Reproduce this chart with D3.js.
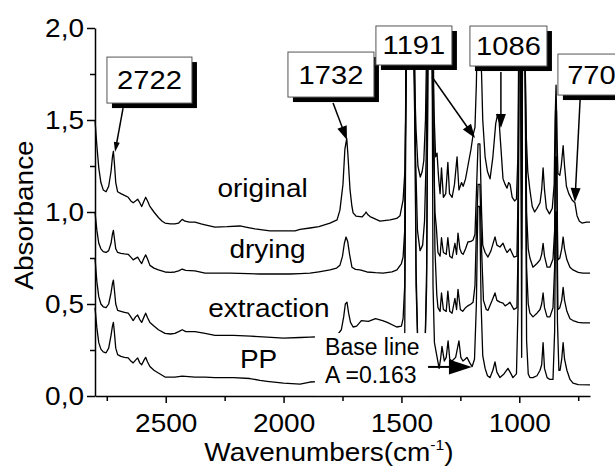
<!DOCTYPE html>
<html><head><meta charset="utf-8">
<script src="https://cdn.jsdelivr.net/npm/d3@7"></script>
<style>
html,body{margin:0;padding:0;background:#fff;}
svg{display:block;font-family:"Liberation Sans",Arial,sans-serif;}
</style></head>
<body>
<svg id="c" width="615" height="468"></svg>
<script>
// ---- data: [wavenumber cm-1, absorbance] ----
const original = [[2800,1.50],[2792,1.36],[2784,1.24],[2775,1.16],[2765,1.12],[2753,1.11],[2742,1.14],[2732,1.22],[2726,1.30],[2722,1.33],[2718,1.27],[2712,1.16],[2704,1.11],[2690,1.10],[2675,1.09],[2659,1.08],[2648,1.06],[2638,1.05],[2628,1.06],[2619,1.07],[2610,1.05],[2602,1.03],[2592,1.06],[2585,1.08],[2577,1.06],[2567,1.03],[2550,1.00],[2531,0.97],[2515,0.95],[2503,0.94],[2480,0.935],[2461,0.935],[2445,0.94],[2430,0.96],[2418,0.95],[2400,0.945],[2376,0.945],[2350,0.935],[2333,0.93],[2291,0.918],[2240,0.92],[2185,0.924],[2150,0.915],[2121,0.908],[2058,0.897],[2000,0.897],[1951,0.897],[1930,0.905],[1888,0.913],[1850,0.92],[1803,0.94],[1773,0.957],[1761,1.01],[1748,1.15],[1740,1.34],[1732,1.40],[1727,1.31],[1718,1.12],[1710,1.03],[1705,0.995],[1693,0.978],[1667,0.973],[1655,0.99],[1650,1.0],[1642,0.985],[1633,0.975],[1591,0.95],[1548,0.957],[1520,0.965],[1506,0.98],[1493,1.065],[1485,1.23],[1478,1.9],[1470,1.98],[1450,1.98],[1444,1.7],[1438,1.45],[1430,1.25],[1420,1.19],[1412,1.22],[1405,1.28],[1398,1.5],[1392,1.98],[1370,1.98],[1362,1.55],[1355,1.3],[1349,1.32],[1342,1.18],[1336,1.10],[1330,1.24],[1322,1.08],[1312,1.10],[1303,1.27],[1296,1.10],[1285,1.08],[1275,1.15],[1264,1.30],[1256,1.12],[1245,1.16],[1238,1.14],[1228,1.18],[1218,1.25],[1205,1.34],[1196,1.42],[1188,1.46],[1182,1.7],[1178,1.98],[1168,1.98],[1160,1.75],[1155,1.5],[1145,1.3],[1135,1.22],[1124,1.18],[1112,1.3],[1100,1.48],[1092,1.53],[1086,1.50],[1078,1.35],[1069,1.18],[1060,1.15],[1052,1.13],[1045,1.16],[1039,1.15],[1030,1.08],[1020,1.06],[1012,1.07],[1006,1.3],[1002,1.98],[995,1.98],[991,1.5],[987,1.98],[977,1.98],[970,1.4],[964,1.22],[955,1.12],[945,1.03],[935,1.0],[925,1.02],[912,1.05],[905,1.12],[899,1.24],[893,1.12],[885,1.02],[872,0.99],[860,1.02],[852,1.15],[848,1.5],[844,1.69],[840,1.4],[836,1.21],[828,1.2],[822,1.25],[814,1.36],[808,1.25],[800,1.14],[790,1.10],[776,1.065],[764,1.05],[755,0.98],[745,0.95],[734,0.94],[715,0.945],[700,0.945]];

const drying = [[2800,1.0],[2792,0.90],[2784,0.83],[2775,0.80],[2765,0.785],[2753,0.78],[2742,0.79],[2732,0.83],[2726,0.88],[2722,0.90],[2718,0.86],[2712,0.80],[2704,0.78],[2690,0.775],[2675,0.772],[2659,0.77],[2648,0.755],[2638,0.74],[2628,0.748],[2619,0.755],[2610,0.735],[2602,0.72],[2592,0.75],[2585,0.767],[2577,0.745],[2567,0.71],[2550,0.695],[2531,0.685],[2503,0.674],[2480,0.672],[2461,0.674],[2445,0.68],[2430,0.69],[2415,0.683],[2376,0.68],[2333,0.668],[2290,0.668],[2227,0.668],[2150,0.665],[2100,0.663],[2030,0.663],[1973,0.663],[1930,0.665],[1888,0.668],[1850,0.675],[1803,0.685],[1775,0.695],[1761,0.71],[1750,0.76],[1742,0.83],[1735,0.864],[1728,0.84],[1720,0.77],[1710,0.70],[1695,0.688],[1676,0.685],[1646,0.674],[1610,0.67],[1578,0.668],[1540,0.675],[1519,0.685],[1500,0.72],[1493,0.755],[1486,0.9],[1480,1.98],[1450,1.98],[1442,1.4],[1432,0.9],[1421,0.79],[1410,0.82],[1402,0.95],[1395,1.3],[1390,1.98],[1372,1.98],[1365,1.4],[1358,1.0],[1352,0.92],[1345,0.78],[1336,0.76],[1330,0.86],[1322,0.78],[1310,0.77],[1303,0.86],[1295,0.76],[1285,0.75],[1273,0.83],[1266,0.77],[1260,0.885],[1252,0.80],[1245,0.777],[1238,0.77],[1228,0.80],[1218,0.837],[1205,0.84],[1196,0.848],[1188,0.88],[1182,1.1],[1175,1.37],[1167,1.37],[1160,1.0],[1155,0.82],[1145,0.78],[1133,0.755],[1120,0.79],[1103,0.865],[1095,0.82],[1082,0.81],[1069,0.83],[1060,0.80],[1052,0.78],[1039,0.80],[1023,0.755],[1010,0.76],[1005,1.1],[1001,1.98],[994,1.98],[990,1.1],[986,1.98],[976,1.98],[969,1.0],[962,0.8],[955,0.75],[942,0.70],[925,0.72],[912,0.74],[905,0.77],[899,0.83],[893,0.76],[882,0.70],[870,0.70],[857,0.745],[850,0.9],[846,1.55],[842,1.55],[838,0.9],[836,0.74],[828,0.75],[820,0.80],[814,0.864],[808,0.80],[798,0.74],[785,0.70],[772,0.685],[750,0.672],[730,0.668],[700,0.668]];

const extraction = [[2800,0.75],[2792,0.62],[2784,0.54],[2775,0.50],[2765,0.485],[2753,0.48],[2742,0.50],[2732,0.56],[2726,0.61],[2722,0.63],[2718,0.58],[2712,0.50],[2704,0.465],[2690,0.46],[2675,0.455],[2659,0.45],[2648,0.43],[2638,0.41],[2628,0.43],[2619,0.44],[2610,0.415],[2602,0.40],[2592,0.43],[2585,0.45],[2577,0.425],[2567,0.40],[2550,0.38],[2531,0.36],[2503,0.34],[2480,0.337],[2461,0.34],[2445,0.35],[2430,0.36],[2415,0.35],[2376,0.35],[2333,0.34],[2291,0.33],[2212,0.33],[2140,0.325],[2070,0.32],[2000,0.315],[1930,0.318],[1888,0.32],[1850,0.322],[1800,0.325],[1770,0.335],[1755,0.36],[1745,0.43],[1738,0.50],[1731,0.51],[1724,0.45],[1716,0.40],[1705,0.375],[1690,0.38],[1670,0.41],[1640,0.405],[1610,0.42],[1580,0.41],[1560,0.40],[1520,0.375],[1500,0.38],[1493,0.42],[1486,0.6],[1480,1.98],[1445,1.98],[1438,0.7],[1430,0.25],[1415,0.2],[1400,0.25],[1393,0.7],[1387,1.98],[1365,1.98],[1358,0.8],[1350,0.55],[1345,0.48],[1336,0.46],[1330,0.56],[1322,0.47],[1310,0.46],[1303,0.57],[1295,0.46],[1285,0.45],[1273,0.53],[1266,0.47],[1260,0.58],[1250,0.47],[1240,0.46],[1228,0.48],[1218,0.49],[1205,0.50],[1196,0.51],[1188,0.6],[1182,0.9],[1175,1.15],[1167,1.15],[1160,0.8],[1152,0.52],[1140,0.47],[1133,0.465],[1115,0.52],[1103,0.56],[1095,0.52],[1082,0.51],[1069,0.505],[1060,0.49],[1048,0.50],[1040,0.51],[1023,0.47],[1010,0.48],[1005,0.8],[1001,1.98],[994,1.98],[990,0.8],[986,1.98],[976,1.98],[969,0.7],[962,0.5],[955,0.45],[942,0.43],[925,0.45],[912,0.47],[905,0.5],[899,0.56],[893,0.48],[882,0.43],[870,0.43],[857,0.48],[850,0.7],[846,1.3],[842,1.3],[838,0.7],[836,0.47],[828,0.48],[820,0.52],[814,0.59],[808,0.52],[798,0.46],[785,0.42],[772,0.41],[750,0.40],[730,0.397],[700,0.397]];

const pp = [[2800,0.48],[2792,0.37],[2784,0.29],[2775,0.255],[2765,0.24],[2753,0.235],[2742,0.26],[2732,0.33],[2726,0.38],[2722,0.40],[2718,0.35],[2712,0.26],[2704,0.225],[2690,0.215],[2675,0.21],[2659,0.207],[2648,0.19],[2638,0.18],[2628,0.195],[2619,0.207],[2610,0.18],[2602,0.17],[2592,0.195],[2585,0.21],[2577,0.185],[2567,0.16],[2550,0.14],[2531,0.125],[2503,0.103],[2461,0.103],[2430,0.108],[2376,0.103],[2333,0.103],[2291,0.10],[2212,0.10],[2143,0.095],[2100,0.085],[2070,0.08],[2000,0.07],[1930,0.065],[1888,0.076],[1850,0.078],[1800,0.08],[1740,0.09],[1650,0.1],[1550,0.1],[1500,0.12],[1486,0.3],[1480,1.98],[1445,1.98],[1438,0.6],[1430,0.25],[1415,0.2],[1400,0.25],[1393,0.6],[1387,1.98],[1370,1.98],[1366,0.6],[1360,0.29],[1350,0.22],[1340,0.15],[1334,0.2],[1328,0.27],[1318,0.19],[1310,0.21],[1302,0.30],[1295,0.2],[1285,0.19],[1270,0.21],[1256,0.30],[1248,0.21],[1239,0.19],[1230,0.2],[1222,0.21],[1210,0.18],[1200,0.16],[1190,0.2],[1182,0.5],[1176,1.03],[1168,1.03],[1162,0.5],[1155,0.22],[1145,0.15],[1135,0.11],[1124,0.10],[1112,0.14],[1103,0.185],[1095,0.13],[1082,0.10],[1065,0.12],[1048,0.15],[1035,0.12],[1027,0.10],[1012,0.12],[1005,0.5],[1001,1.98],[994,1.98],[990,0.21],[986,1.98],[976,1.98],[969,0.3],[962,0.12],[955,0.10],[942,0.10],[925,0.11],[912,0.14],[905,0.17],[899,0.29],[893,0.15],[882,0.10],[870,0.09],[857,0.09],[850,0.35],[846,1.0],[842,1.0],[838,0.4],[832,0.14],[827,0.14],[820,0.2],[814,0.29],[808,0.2],[798,0.14],[785,0.09],[772,0.07],[750,0.062],[700,0.06]];

const seriesNames = ["original","drying","extraction","PP"];
const xMajorTicks = [2500,2000,1500,1000];
const xMinorTicks = [2750,2250,1750,1250,750];
const yMajorTicks = [0,0.5,1.0,1.5,2.0];
const yMinorTicks = [0.25,0.75,1.25,1.75];
const peakLabels = ["2722","1732","1191","1086","770"];

// ---- layout ----
const svg = d3.select("#c");
const x = d3.scaleLinear().domain([2800,700]).range([95,590]);
const y = d3.scaleLinear().domain([0,2]).range([396,28]);
const SX = 1.12; // horizontal stretch of the reference's text
const FS = 25;

// traces
const line = d3.line().x(d=>x(d[0])).y(d=>y(d[1]));
const traces = [original, drying, extraction, pp];
svg.append("g").selectAll("path").data(traces).join("path")
  .attr("d", line).attr("fill","none").attr("stroke","#000")
  .attr("stroke-width",1.3).attr("stroke-linejoin","round");

// axes
function styleAxis(g){
  g.select(".domain").attr("stroke","#000").attr("stroke-width",1.5);
  g.selectAll(".tick line").attr("stroke","#000").attr("stroke-width",1.5);
  g.selectAll(".tick text").attr("font-size",FS).attr("fill","#000")
    .attr("font-family","Liberation Sans, Arial, sans-serif");
}
const gx = svg.append("g").attr("transform","translate(0,396)")
  .call(d3.axisBottom(x).tickValues(xMajorTicks).tickSize(7).tickSizeOuter(0).tickPadding(11).tickFormat(d3.format("d")));
styleAxis(gx);
gx.selectAll(".tick text").attr("transform",`scale(${SX},1)`);
const gxm = svg.append("g").attr("transform","translate(0,396)")
  .call(d3.axisBottom(x).tickValues(xMinorTicks).tickSize(5).tickSizeOuter(0).tickFormat(""));
styleAxis(gxm); gxm.select(".domain").remove();

const gy = svg.append("g").attr("transform","translate(95,0)")
  .call(d3.axisLeft(y).tickValues(yMajorTicks).tickSize(8).tickSizeOuter(0).tickPadding(3)
    .tickFormat(d=>d.toFixed(1).replace(".",",")));
styleAxis(gy);
gy.selectAll(".tick text").attr("transform",`scale(${SX},1)`).attr("x",-11/SX);
const gym = svg.append("g").attr("transform","translate(95,0)")
  .call(d3.axisLeft(y).tickValues(yMinorTicks).tickSize(5).tickSizeOuter(0).tickFormat(""));
styleAxis(gym); gym.select(".domain").remove();

// axis titles
svg.append("text").attr("transform",`translate(33,${(y(0)+y(2))/2+3}) rotate(-90) scale(${SX},1)`)
  .attr("text-anchor","middle").attr("font-size",FS).text("Absorbance");
const xt = svg.append("text").attr("transform",`translate(329,461) scale(${SX},1)`)
  .attr("text-anchor","middle").attr("font-size",FS);
xt.append("tspan").text("Wavenumbers(cm");
xt.append("tspan").attr("font-size",14).attr("dy",-11).text("-1");
xt.append("tspan").attr("dy",11).text(")");

// series labels (wavenumber, absorbance of the text baseline centre)
const seriesLabelPos = [[2089,1.082],[2068,0.75],[2062,0.43],[2106,0.152]];
svg.append("g").selectAll("text").data(seriesNames).join("text")
  .attr("transform",(d,i)=>`translate(${x(seriesLabelPos[i][0])},${y(seriesLabelPos[i][1])}) scale(${SX},1)`)
  .attr("text-anchor","middle").attr("font-size",FS).text(d=>d);

// base line note (white panel hides traces beneath)
svg.append("rect").attr("x",x(1867)).attr("y",y(0.342))
  .attr("width",x(1387)-x(1867)).attr("height",y(0.005)-y(0.342)).attr("fill","#fff");
svg.append("text").attr("x",x(1824)).attr("y",y(0.223)).attr("font-size",23).text("Base line");
svg.append("text").attr("x",x(1824)).attr("y",y(0.071)).attr("font-size",23).text("A =0.163");

// arrows
const arrows = [
  {from:[2681,1.565], to:[2715,1.326], len:10, w:6},
  {from:[1790,1.592], to:[1731,1.391], len:14, w:10},
  {from:[1370,1.734], to:[1188,1.402], len:14, w:10},
  {from:[1078,1.761], to:[1078,1.457], len:14, w:10},
  {from:[742,1.609],  to:[764,1.054],  len:14, w:10},
  {from:[1387,0.158], to:[1201,0.158], len:23, w:15}
];
const ag = svg.append("g");
arrows.forEach(a=>{
  const x1=x(a.from[0]), y1=y(a.from[1]), x2=x(a.to[0]), y2=y(a.to[1]);
  const dx=x2-x1, dy=y2-y1, L=Math.hypot(dx,dy), ux=dx/L, uy=dy/L;
  const bx=x2-ux*a.len, by=y2-uy*a.len;
  ag.append("line").attr("x1",x1).attr("y1",y1).attr("x2",bx+ux*2).attr("y2",by+uy*2)
    .attr("stroke","#000").attr("stroke-width",a.len>20?2:1.5);
  const px=-uy*a.w/2, py=ux*a.w/2;
  ag.append("path").attr("d",`M${x2},${y2}L${bx+px},${by+py}L${bx-px},${by-py}Z`).attr("fill","#000");
});

// peak label boxes with drop shadow
const boxCenters = [[2569,1.717],[1799,1.747],[1447,1.905],[1046,1.902],[694,1.747]];
const boxSizes = [[85,46],[86,45],[76,39],[77,40],[67,41]];
const bg = svg.append("g");
peakLabels.forEach((t,i)=>{
  const cx=x(boxCenters[i][0]), cy=y(boxCenters[i][1]), w=boxSizes[i][0], h=boxSizes[i][1];
  bg.append("rect").attr("x",cx-w/2+5).attr("y",cy-h/2+5).attr("width",w).attr("height",h).attr("fill","#000");
  bg.append("rect").attr("x",cx-w/2).attr("y",cy-h/2).attr("width",w).attr("height",h)
    .attr("fill","#fff").attr("stroke","#555").attr("stroke-width",1);
  bg.append("text").attr("transform",`translate(${cx},${cy+9}) scale(${SX},1)`)
    .attr("text-anchor","middle").attr("font-size",FS+1).text(t);
});
</script>
</body></html>
